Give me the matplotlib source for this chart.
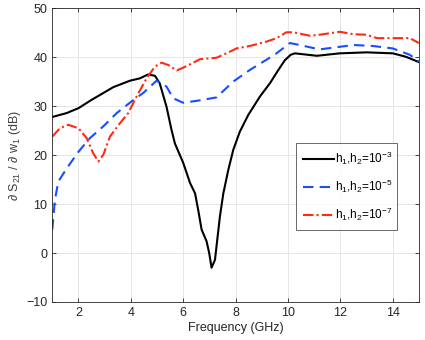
import matplotlib
matplotlib.use("Agg")
import matplotlib.pyplot as plt

plt.rcParams['font.family'] = ['Liberation Sans', 'DejaVu Sans']
plt.rcParams['mathtext.fontset'] = 'custom'
plt.rcParams['mathtext.rm'] = 'Liberation Sans'
plt.rcParams['mathtext.it'] = 'Liberation Sans:italic'
plt.rcParams['mathtext.sf'] = 'Liberation Sans'

f_black = [1, 1.55, 2, 2.5, 2.95, 3.33, 3.96, 4.35, 4.66, 4.92, 5.1, 5.36, 5.55, 5.68, 6.0, 6.26,
           6.45, 6.57, 6.70, 6.89, 6.99, 7.08, 7.21, 7.27, 7.40, 7.53, 7.72, 7.91, 8.16, 8.48,
           8.93, 9.31, 9.63, 9.88, 10.1, 10.26, 11.1, 11.98, 13.0, 14.0, 14.5, 15.0]
v_black = [27.8, 28.6, 29.6, 31.3, 32.7, 33.9, 35.2, 35.7, 36.5, 36.2, 34.7, 29.9, 25.2, 22.4, 18.4, 14.3,
           12.2, 8.8, 4.8, 2.4, 0.0, -3.0, -1.4, 1.4, 7.5, 12.2, 17.0, 21.1, 24.8, 28.2,
           32.0, 34.7, 37.4, 39.4, 40.5, 40.8, 40.3, 40.8, 41.0, 40.8, 40.1, 39.0]

f_blue = [1, 1.1, 1.23, 1.55, 2.0, 2.44, 2.95, 3.46, 4.03, 4.47, 4.98, 5.36, 5.62, 6.0, 6.64, 7.27,
          7.9, 8.54, 9.18, 9.56, 10.07, 10.45, 11.2, 12.5, 13.25, 14.0, 14.65, 15.0]
v_blue = [4.8, 10.9, 14.6, 17.3, 20.7, 23.5, 25.9, 28.6, 31.0, 32.7, 35.2, 34.0, 31.6, 30.7, 31.2, 31.8,
          35.0, 37.4, 39.5, 40.8, 42.9, 42.5, 41.6, 42.5, 42.3, 41.8, 40.5, 39.1]

f_red = [1, 1.29, 1.61, 2.0, 2.31, 2.56, 2.76, 2.95, 3.2, 3.58, 3.9, 4.22, 4.6, 4.92, 5.17, 5.43,
         5.75, 6.13, 6.64, 7.27, 7.65, 8.03, 8.54, 9.18, 9.56, 9.94, 10.2, 10.83, 11.2, 11.98, 12.5,
         13.0, 13.4, 14.3, 14.65, 15.0]
v_red = [23.8, 25.5, 26.2, 25.5, 23.5, 20.4, 18.7, 20.1, 23.8, 26.5, 28.6, 32.0, 35.7, 38.1, 38.9, 38.4,
         37.3, 38.2, 39.6, 39.9, 40.8, 41.8, 42.3, 43.2, 43.9, 45.1, 45.1, 44.4, 44.6, 45.2, 44.7,
         44.6, 43.9, 43.9, 43.9, 42.9]

labels = [r'h$_1$,h$_2$=10$^{-3}$', r'h$_1$,h$_2$=10$^{-5}$', r'h$_1$,h$_2$=10$^{-7}$']
xticks = [2, 4, 6, 8, 10, 12, 14]
yticks = [-10, 0, 10, 20, 30, 40, 50]

fig = plt.figure(figsize=(4.25, 3.4), dpi=100)
ax = fig.add_axes([52.3/425, 1 - 302/340, (419 - 52.3)/425, (302 - 8.3)/340])

ax.plot(f_black, v_black, color='black', lw=1.5, ls='-', label=labels[0])
ax.plot(f_blue, v_blue, color='#1a4dff', lw=1.5, ls=(0, (5, 3)), label=labels[1])
ax.plot(f_red, v_red, color='#ff2a14', lw=1.5, ls=(0, (5, 1.5, 1, 1.5)), label=labels[2])

ax.set_xlim(1, 15)
ax.set_ylim(-10, 50)
ax.set_xticks(xticks)
ax.set_yticks(yticks)
ax.grid(True, color='#e6e6e6', lw=0.7)
ax.set_axisbelow(True)
ax.tick_params(direction='in', top=True, right=True, labelsize=9, colors='#262626', length=3, width=0.6)
for s in ax.spines.values():
    s.set_color('#262626')
    s.set_linewidth(0.6)
ax.set_xlabel('Frequency (GHz)', fontsize=9, color='#262626', labelpad=2)
ax.set_ylabel(r'$\partial$ S$_{21}$ / $\partial$ w$_1$ (dB)', fontsize=9, color='#404040', labelpad=2)

leg = ax.legend(loc='lower left', bbox_to_anchor=(0.665, 0.245, 0.275, 0.28), mode='expand',
                fontsize=8.5, frameon=True, fancybox=False, edgecolor='#262626',
                handlelength=2.6, handletextpad=0.1, labelspacing=0.9, borderpad=0.6, borderaxespad=0)
leg.get_frame().set_linewidth(0.6)

fig.savefig('out.png', dpi=100)
